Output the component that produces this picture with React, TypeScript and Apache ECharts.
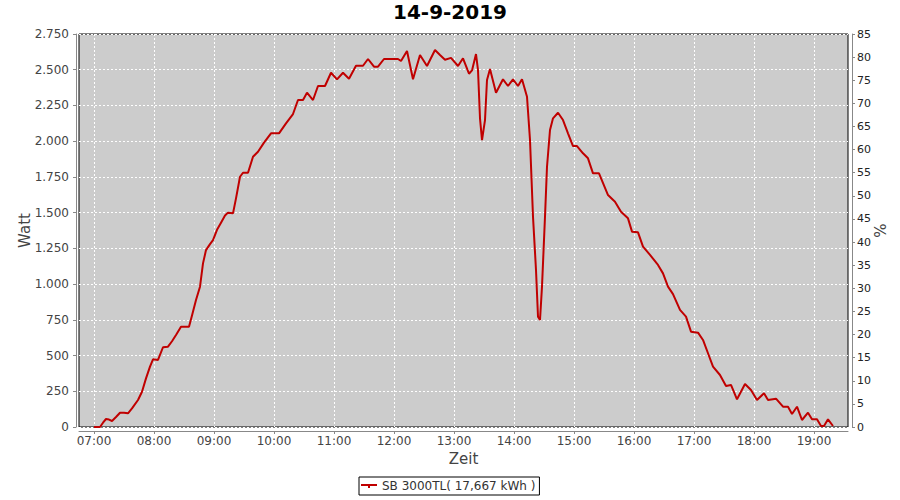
import React, { useEffect, useRef } from "react";
import * as echarts from "echarts";

const chartTitle = "14-9-2019";
const seriesName = "SB 3000TL( 17,667 kWh )";
const xTickLabels = ["07:00","08:00","09:00","10:00","11:00","12:00","13:00","14:00","15:00","16:00","17:00","18:00","19:00"];
const xRange = ["06:45", "19:34"];

const times = [
  "07:00","07:06","07:09","07:12","07:15","07:18","07:22","07:26","07:30","07:34","07:38","07:44","07:48","07:52","07:56","07:59",
  "08:04","08:09","08:14","08:18","08:22","08:27","08:35","08:38","08:42","08:46","08:49","08:52","08:56","08:59",
  "09:03","09:07","09:11","09:14","09:19","09:22","09:26","09:29","09:34","09:39","09:44","09:50","09:57",
  "10:05","10:12","10:19","10:24","10:29","10:33","10:39","10:44","10:51","10:57",
  "11:03","11:09","11:15","11:22","11:29","11:34","11:40","11:44","11:50",
  "12:04","12:07","12:13","12:19","12:26","12:33","12:41","12:46","12:51","12:57",
  "13:04","13:09","13:15","13:18","13:22","13:24","13:26","13:28","13:31","13:33","13:36","13:42","13:49","13:54","13:59",
  "14:04","14:08","14:13","14:16","14:19","14:22","14:24","14:26","14:28","14:31","14:33","14:36","14:39","14:44","14:49","14:54","14:59",
  "15:03","15:09","15:14","15:19","15:25","15:34","15:41","15:47","15:54","15:58",
  "16:04","16:09","16:16","16:24","16:29","16:34","16:39","16:46","16:52","16:57",
  "17:04","17:09","17:14","17:19","17:26","17:32","17:37","17:43","17:51","17:57",
  "18:03","18:10","18:14","18:22","18:29","18:34","18:38","18:43","18:48","18:54","18:58",
  "19:03","19:07","19:10","19:14","19:19"
];
const watts = [
  0,0,30,56,52,42,70,100,100,96,130,189,247,340,422,474,
  469,558,562,600,644,702,702,780,889,982,1145,1238,1280,1308,
  1380,1430,1480,1500,1495,1600,1751,1779,1779,1891,1926,1990,2055,
  2055,2125,2190,2288,2288,2339,2288,2386,2386,2479,
  2433,2479,2437,2528,2528,2575,2521,2521,2575,
  2575,2561,2631,2433,2603,2526,2638,2603,2570,2583,
  2526,2580,2472,2495,2610,2498,2160,2008,2148,2428,2505,2339,2433,2386,2433,
  2386,2433,2311,2008,1472,1099,772,749,982,1472,1821,2078,2160,2199,2148,2055,1966,
  1966,1915,1880,1775,1775,1623,1576,1506,1460,1367,
  1362,1262,1204,1134,1075,982,930,819,772,667,
  660,609,516,422,364,287,294,194,301,259,
  189,236,189,198,142,142,91,142,49,100,54,
  54,7,7,54,7
];

const toMin = (s: string) => {
  const [h, m] = s.split(":").map(Number);
  return h * 60 + m;
};
const fmtMin = (v: number) => {
  const h = Math.floor(v / 60);
  const m = Math.round(v % 60);
  return `${String(h).padStart(2, "0")}:${String(m).padStart(2, "0")}`;
};
const fmtWatt = (v: number) =>
  v >= 1000 ? `${Math.floor(v / 1000)}.${String(v % 1000).padStart(3, "0")}` : String(v);

const FONT = "DejaVu Sans";

export default function App() {
  const ref = useRef<HTMLDivElement>(null);
  useEffect(() => {
    const chart = echarts.init(ref.current as HTMLDivElement, null, { renderer: "svg" });
    const tickVals = xTickLabels.map(toMin);
    chart.setOption({
      animation: false,
      backgroundColor: "#ffffff",
      textStyle: { fontFamily: FONT },
      title: {
        text: chartTitle,
        left: "center",
        top: 2,
        padding: 0,
        textStyle: { fontFamily: FONT, fontSize: 20, fontWeight: "bold", color: "#000" },
      },
      legend: {
        left: 359,
        top: 477,
        padding: [3, 4, 3, 2],
        borderColor: "#000",
        borderWidth: 1,
        itemWidth: 16,
        itemHeight: 8,
        icon: "path://M0,3h16v2h-16z M7,5h2v2h-2z",
        textStyle: { fontFamily: FONT, fontSize: 12, color: "#333" },
        data: [seriesName],
      },
      grid: {
        left: 79,
        top: 34,
        width: 769,
        height: 393,
        show: true,
        backgroundColor: "#cccccc",
        borderColor: "#000",
        borderWidth: 1,
        outerBoundsMode: "none",
      },
      xAxis: {
        type: "value",
        min: toMin(xRange[0]),
        max: toMin(xRange[1]),
        offset: 4,
        name: "Zeit",
        nameLocation: "middle",
        nameGap: 20,
        nameMoveOverlap: false,
        nameTextStyle: { fontFamily: FONT, fontSize: 15, color: "#444" },
        axisLine: { show: true, onZero: false, lineStyle: { color: "#888" } },
        axisTick: { show: true, length: 3, lineStyle: { color: "#888" }, customValues: tickVals },
        axisLabel: {
          customValues: tickVals,
          formatter: (v: number) => fmtMin(v),
          margin: 4,
          fontFamily: FONT,
          fontSize: 12,
          color: "#444",
        },
        splitLine: { show: true, lineStyle: { color: "#ffffff", type: [2, 2], width: 1 } },
      },
      yAxis: [
        {
          type: "value",
          min: 0,
          max: 2750,
          interval: 250,
          offset: 3,
          name: "Watt",
          nameLocation: "middle",
          nameGap: 44,
          nameMoveOverlap: false,
          nameTextStyle: { fontFamily: FONT, fontSize: 15, color: "#444" },
          axisLine: { show: true, lineStyle: { color: "#888" } },
          axisTick: { show: true, length: 3, lineStyle: { color: "#888" } },
          axisLabel: { formatter: (v: number) => fmtWatt(v), margin: 7, fontFamily: FONT, fontSize: 12, color: "#444" },
          splitLine: { show: true, lineStyle: { color: "#ffffff", type: [2, 2], width: 1 } },
        },
        {
          type: "value",
          position: "right",
          min: 0,
          max: 85,
          interval: 5,
          offset: 4,
          name: "%",
          nameLocation: "middle",
          nameGap: 21,
          nameMoveOverlap: false,
          nameTextStyle: { fontFamily: FONT, fontSize: 15, color: "#444" },
          axisLine: { show: true, lineStyle: { color: "#888" } },
          axisTick: { show: true, length: 3, lineStyle: { color: "#888" } },
          axisLabel: { margin: 5, fontFamily: FONT, fontSize: 11, color: "#222" },
          splitLine: { show: false },
        },
      ],
      series: [
        {
          name: seriesName,
          type: "line",
          yAxisIndex: 0,
          showSymbol: false,
          symbol: "none",
          data: times.map((t, i) => [toMin(t), watts[i]]),
          lineStyle: { color: "#c00000", width: 2 },
          itemStyle: { color: "#c00000" },
        },
      ],
    });
    return () => chart.dispose();
  }, []);
  return <div ref={ref} style={{ position: "absolute", left: 0, top: 0, width: 900, height: 500 }} />;
}
